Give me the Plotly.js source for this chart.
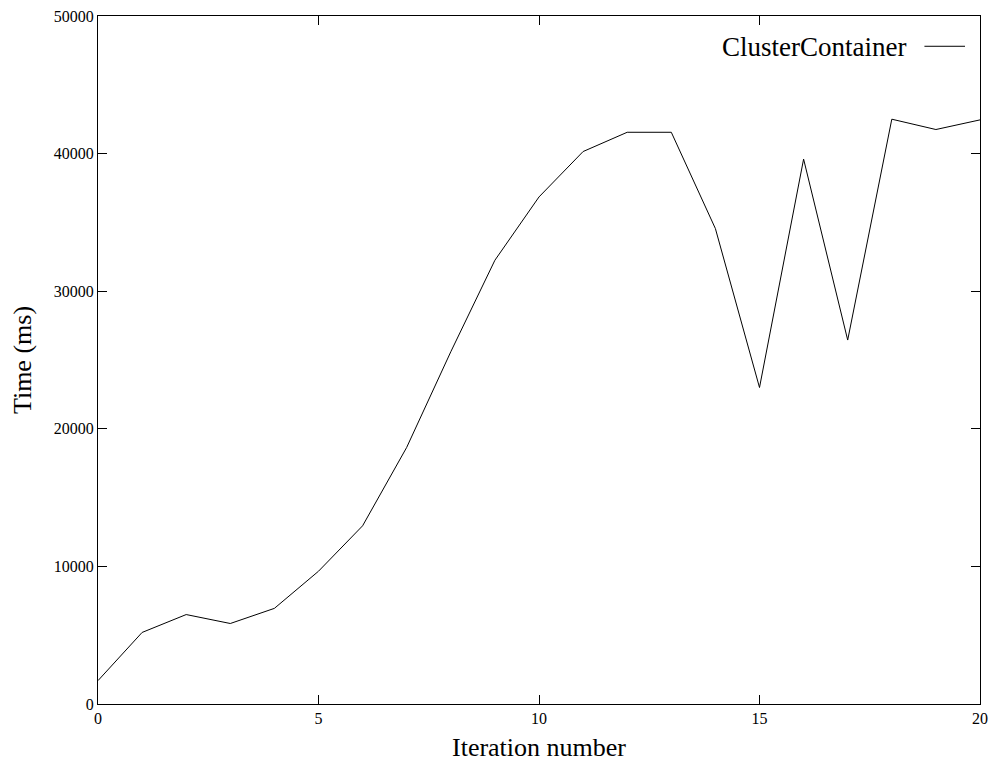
<!DOCTYPE html>
<html>
<head>
<meta charset="utf-8">
<script src="https://cdn.plot.ly/plotly-3.0.1.min.js"></script>
<style>html,body{margin:0;padding:0;background:#fff;}#chart{width:993px;height:762px;}</style>
</head>
<body>
<div id="chart"></div>
<script>
const seriesName = "ClusterContainer";
const iterations = [0,1,2,3,4,5,6,7,8,9,10,11,12,13,14,15,16,17,18,19,20];
const timesMs = [1700,5200,6500,5850,6950,9650,12950,18650,25600,32250,36850,40150,41550,41550,34550,23000,39600,26450,42500,41750,42450];
const xTicks = [0,5,10,15,20];
const yTicks = [0,10000,20000,30000,40000,50000];

const font = "Liberation Serif, Times New Roman, serif";

const trace = {
  x: iterations, y: timesMs, type: "scatter", mode: "lines",
  name: seriesName, showlegend: false,
  line: {color: "#000", width: 1}
};

const axisCommon = {
  showgrid: false, zeroline: false, showline: true, linecolor: "#000", linewidth: 1,
  mirror: "ticks", ticks: "inside", ticklen: 9, tickcolor: "#000", tickwidth: 1,
  tickfont: {family: font, size: 16, color: "#000"}
};

const layout = {
  width: 993, height: 762,
  margin: {l: 98, r: 13, t: 16, b: 58},
  paper_bgcolor: "#fff", plot_bgcolor: "#fff",
  font: {family: font, color: "#000"},
  xaxis: Object.assign({}, axisCommon, {
    range: [0, 20], tickvals: xTicks, ticktext: xTicks.map(String),
    title: {text: "Iteration number", font: {family: font, size: 26, color: "#000"}, standoff: 12}
  }),
  yaxis: Object.assign({}, axisCommon, {
    range: [0, 50000], tickvals: yTicks, ticktext: yTicks.map(String),
    title: {text: "Time (ms)", font: {family: font, size: 26, color: "#000"}, standoff: 14}
  }),
  annotations: [{
    xref: "paper", yref: "paper", x: 0.918, y: 0.955, xanchor: "right", yanchor: "middle",
    text: seriesName, showarrow: false, font: {family: font, size: 27, color: "#000"}
  }],
  shapes: [{
    type: "line", xref: "paper", yref: "paper", x0: 0.937, x1: 0.983, y0: 0.956, y1: 0.956,
    line: {color: "#000", width: 1}
  }]
};

Plotly.newPlot("chart", [trace], layout, {displayModeBar: false, staticPlot: true});
</script>
</body>
</html>
